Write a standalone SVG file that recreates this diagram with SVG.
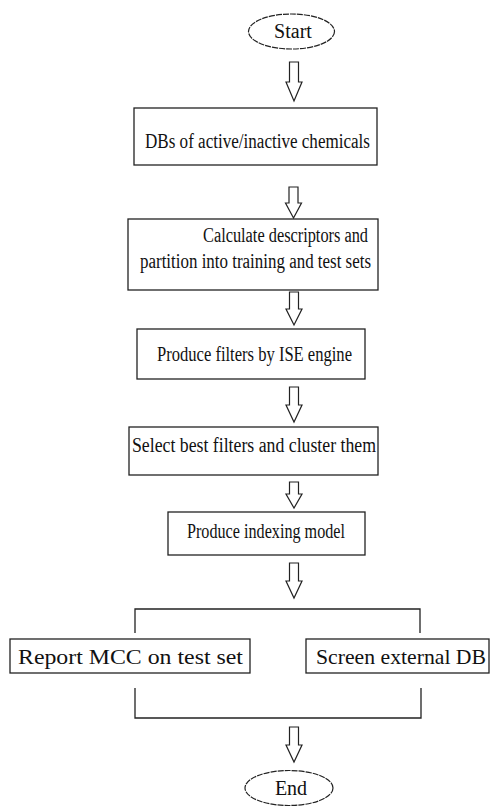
<svg xmlns="http://www.w3.org/2000/svg" width="490" height="806" viewBox="0 0 490 806">
<style>
  .box { fill: #fff; stroke: #222; stroke-width: 1.3; }
  .term { fill: #fff; stroke: #222; stroke-width: 1.2; stroke-dasharray: 6 1; }
  .t { font-family: "Liberation Serif", "Times New Roman", serif; font-size: 20px; fill: #111; }
  .tb { font-family: "Liberation Serif", "Times New Roman", serif; font-size: 21px; fill: #111; }
  .te { font-family: "Liberation Serif", "Times New Roman", serif; font-size: 20px; fill: #111; }
  .arrow { fill: #fff; stroke: #222; stroke-width: 1.2; stroke-linejoin: miter; }
  .line { fill: none; stroke: #222; stroke-width: 1.3; }
</style>
<rect width="490" height="806" fill="#fff"/>
<g id="connectors">
  <path class="arrow" d="M289.5,62 H298.5 V82 H302 L294,101 L286,82 H289.5 Z"/>
  <path class="arrow" d="M289,187 H298 V203 H301.5 L293.5,218 L285.5,203 H289 Z"/>
  <path class="arrow" d="M289.5,292 H298.5 V309 H302 L294,325 L286,309 H289.5 Z"/>
  <path class="arrow" d="M289.5,387 H298.5 V405 H302 L294,422 L286,405 H289.5 Z"/>
  <path class="arrow" d="M289.5,482 H298.5 V494 H302 L294,508 L286,494 H289.5 Z"/>
  <path class="arrow" d="M289.5,563 H298.5 V581 H302 L294,598 L286,581 H289.5 Z"/>
  <path class="arrow" d="M289.5,727 H298.5 V745 H302 L294,762 L286,745 H289.5 Z"/>
  <path class="line" d="M135,633 V609 H420 V633"/>
  <path class="line" d="M135,688 V718 H421 V688"/>
</g>
<g id="start">
  <ellipse class="term" cx="291.5" cy="31.5" rx="43" ry="17.5"/>
  <text class="te" x="293" y="38" text-anchor="middle">Start</text>
</g>
<g id="dbs">
  <rect class="box" x="134" y="108" width="243" height="57"/>
  <text class="t" x="145" y="148" textLength="225" lengthAdjust="spacingAndGlyphs">DBs of active/inactive chemicals</text>
</g>
<g id="calc">
  <rect class="box" x="128" y="219" width="250" height="71"/>
  <text class="t" x="203" y="242" textLength="165" lengthAdjust="spacingAndGlyphs">Calculate descriptors and</text>
  <text class="t" x="140" y="268" textLength="231" lengthAdjust="spacingAndGlyphs">partition into training and test sets</text>
</g>
<g id="produce-filters">
  <rect class="box" x="137" y="329" width="228" height="50"/>
  <text class="t" x="157" y="361" textLength="195" lengthAdjust="spacingAndGlyphs">Produce filters by ISE engine</text>
</g>
<g id="select">
  <rect class="box" x="129" y="427" width="249" height="48"/>
  <text class="t" x="132" y="452" textLength="244" lengthAdjust="spacingAndGlyphs">Select best filters and cluster them</text>
</g>
<g id="indexing">
  <rect class="box" x="168" y="512" width="197" height="43"/>
  <text class="t" x="187" y="538" textLength="158" lengthAdjust="spacingAndGlyphs">Produce indexing model</text>
</g>
<g id="report">
  <rect class="box" x="10" y="639" width="240" height="34"/>
  <text class="tb" x="18" y="664" textLength="225" lengthAdjust="spacingAndGlyphs">Report MCC on test set</text>
</g>
<g id="screen">
  <rect class="box" x="306" y="639" width="183" height="34"/>
  <text class="tb" x="316" y="664" textLength="170" lengthAdjust="spacingAndGlyphs">Screen external DB</text>
</g>
<g id="end">
  <ellipse class="term" cx="289" cy="788" rx="44" ry="17.5"/>
  <text class="te" x="291" y="795" text-anchor="middle">End</text>
</g>
</svg>
